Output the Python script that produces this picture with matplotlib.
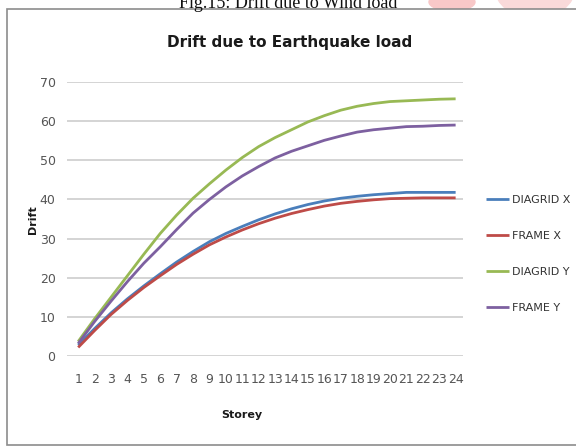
import matplotlib
matplotlib.use("Agg")
import matplotlib.pyplot as plt
from matplotlib.patches import Rectangle, Ellipse

storeys = list(range(1, 25))
diagrid_x = [2.8, 7, 11, 14.6, 17.9, 21, 24, 26.7, 29.2, 31.3, 33.1, 34.8, 36.3, 37.6,
             38.7, 39.6, 40.3, 40.8, 41.2, 41.5, 41.8, 41.8, 41.8, 41.8]
frame_x = [2.2, 6.5, 10.6, 14.2, 17.5, 20.5, 23.4, 26, 28.4, 30.4, 32.2, 33.8, 35.2, 36.4,
           37.4, 38.3, 39, 39.5, 39.9, 40.2, 40.3, 40.4, 40.4, 40.4]
diagrid_y = [3.7, 9.5, 15, 20.5, 26, 31.3, 36, 40.3, 44, 47.5, 50.7, 53.5, 55.8, 57.8,
             59.8, 61.4, 62.8, 63.8, 64.5, 65, 65.2, 65.4, 65.6, 65.7]
frame_y = [3.2, 8.8, 14, 19, 23.7, 27.9, 32.3, 36.5, 40, 43.2, 46, 48.4, 50.6, 52.3,
           53.7, 55.1, 56.2, 57.2, 57.8, 58.2, 58.6, 58.7, 58.9, 59]
series = [("DIAGRID X", diagrid_x, "#4A7EBB"),
          ("FRAME X", frame_x, "#BE4B48"),
          ("DIAGRID Y", diagrid_y, "#98B954"),
          ("FRAME Y", frame_y, "#7D60A0")]
yticks = [0, 10, 20, 30, 40, 50, 60, 70]

W, H = 576, 447
fig = plt.figure(figsize=(W / 100, H / 100), dpi=100)

def fx(px):
    return px / W

def fy(py):
    return 1 - py / H

# watermark blobs
fig.patches.append(Ellipse((fx(452), fy(2)), fx(46), 18 / H, transform=fig.transFigure,
                           color="#F8C8C8", zorder=0))
fig.patches.append(Ellipse((fx(535), fy(-12)), fx(80), 60 / H, transform=fig.transFigure,
                           color="#FADADA", zorder=0))
# caption (cut at top as in the source page)
fig.text(0.5, fy(8), "Fig.15: Drift due to Wind load", ha="center", va="baseline",
         fontsize=13, family="Liberation Serif", color="#111111")
# chart frame
fig.patches.append(Rectangle((fx(7), fy(445)), fx(600), (445 - 9) / H,
                             transform=fig.transFigure, facecolor="white",
                             edgecolor="#8C8C8C", linewidth=1.2, zorder=1))

ax = fig.add_axes([fx(66.7), fy(356), fx(463 - 66.7), (356 - 82) / H])
ax.set_zorder(3)
ax.set_facecolor("none")
for name, vals, col in series:
    ax.plot(storeys, vals, color=col, linewidth=2.0, label=name, solid_capstyle="butt")

ax.set_xlim(0.3, 24.45)
ax.set_ylim(0, 70)
ax.set_yticks(yticks)
ax.set_xticks(storeys)
ax.grid(axis="y", color="#D4D4D4", linewidth=1.4)
ax.set_axisbelow(True)
for s in ax.spines.values():
    s.set_visible(False)
ax.tick_params(length=0, labelsize=9, colors="#555555")
ax.tick_params(axis="y", pad=8)
ax.tick_params(axis="x", pad=12)

fig.text(fx(290), fy(43), "Drift due to Earthquake load", ha="center", va="center",
         fontsize=11, fontweight="bold", color="#1a1a1a", zorder=4)
fig.text(fx(242), fy(415), "Storey", ha="center", va="center", fontsize=8,
         fontweight="bold", color="#1a1a1a", zorder=4)
fig.text(fx(33), fy(220), "Drift", ha="center", va="center", rotation=90, fontsize=8,
         fontweight="bold", color="#1a1a1a", zorder=4)

leg = ax.legend(loc="center left", bbox_to_anchor=(fx(476), fy(254)),
                bbox_transform=fig.transFigure, frameon=False, fontsize=8,
                handlelength=2.1, handletextpad=0.2, labelspacing=2.35,
                labelcolor="#333333")

fig.savefig("out.png", dpi=100)
